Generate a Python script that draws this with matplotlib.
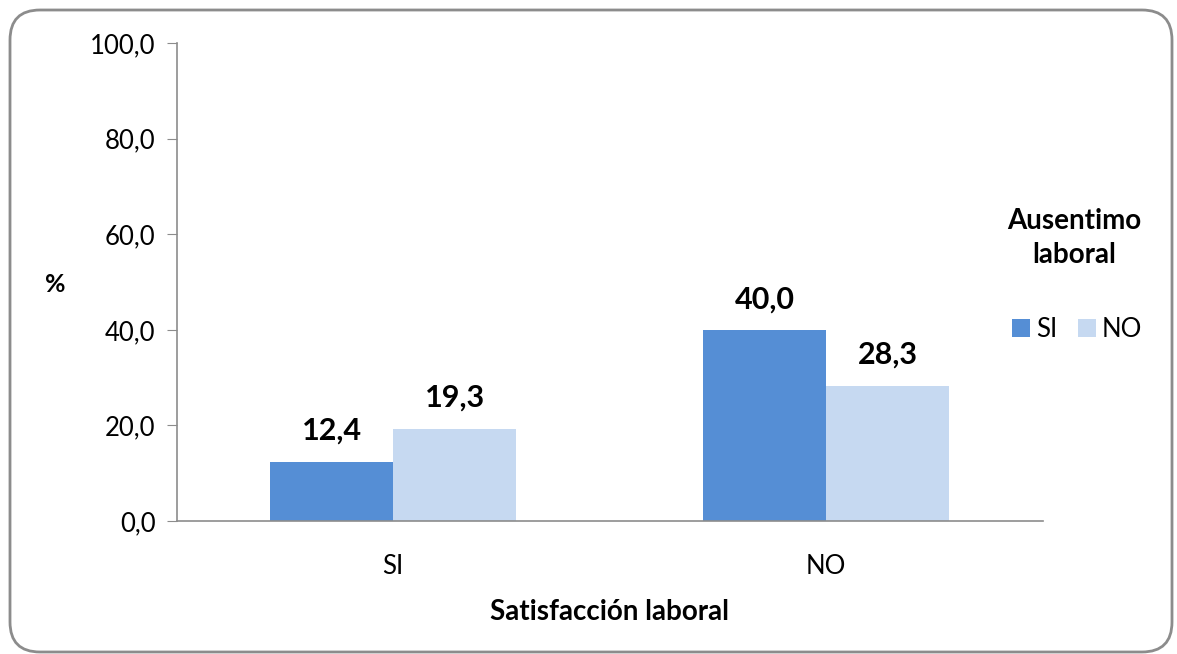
import matplotlib.pyplot as plt
from matplotlib.patches import FancyBboxPatch
import numpy as np

plt.rcParams['font.family'] = ['Lato', 'DejaVu Sans']

categories = ['SI', 'NO']
series_names = ['SI', 'NO']
values_si = [12.4, 40.0]
values_no = [19.3, 28.3]
yticks = [0, 20, 40, 60, 80, 100]

col_si = '#558ED5'
col_no = '#C6D9F1'

fig = plt.figure(figsize=(11.77, 6.54), dpi=100)

# rounded outer border like the Excel chart area (inch units)
border = FancyBboxPatch((0.10, 0.02), 11.62, 6.42,
                        boxstyle='round,pad=0,rounding_size=0.3',
                        transform=fig.dpi_scale_trans, facecolor='white',
                        edgecolor='#8c8c8c', linewidth=2, zorder=-10)
fig.patches.append(border)

ax = fig.add_axes([0.150, 0.2034, 0.736, 0.7306])
ax.set_facecolor('none')

x = np.arange(len(categories))
w = 0.284
b1 = ax.bar(x - w / 2, values_si, w, color=col_si, label=series_names[0])
b2 = ax.bar(x + w / 2, values_no, w, color=col_no, label=series_names[1])

for bars in (b1, b2):
    for r in bars:
        ax.text(r.get_x() + r.get_width() / 2, r.get_height() + 3.5,
                f'{r.get_height():.1f}'.replace('.', ','),
                ha='center', va='bottom', fontsize=22, fontweight='bold')

ax.set_xlim(-0.5, 1.5)
ax.set_ylim(0, 100)
ax.set_yticks(yticks)
ax.set_yticklabels([f'{v:.1f}'.replace('.', ',') for v in yticks], fontsize=18.5)
ax.set_xticks(x)
ax.set_xticklabels(categories, fontsize=18.5)
ax.tick_params(axis='x', length=0, pad=24)
ax.tick_params(axis='y', length=7, color='#8c8c8c', pad=8)

for s in ['top', 'right']:
    ax.spines[s].set_visible(False)
for s in ['left', 'bottom']:
    ax.spines[s].set_color('#8c8c8c')
    ax.spines[s].set_linewidth(1.2)

ax.set_xlabel('Satisfacción laboral', fontsize=20, fontweight='bold', labelpad=14)
ax.set_ylabel('%', fontsize=18, fontweight='bold', rotation=0, labelpad=0)
ax.yaxis.set_label_coords(-0.14, 0.47)

fig.text(0.9125, 0.636, 'Ausentimo\nlaboral', ha='center', va='center',
         fontsize=20, fontweight='bold', linespacing=1.4)
leg = ax.legend(loc='center', bbox_to_anchor=(1.04, 0.401), ncol=2,
                frameon=False, fontsize=18.5, handlelength=0.68, handleheight=0.68,
                handletextpad=0.25, columnspacing=0.8, borderaxespad=0)

fig.savefig('out.png', dpi=100)
